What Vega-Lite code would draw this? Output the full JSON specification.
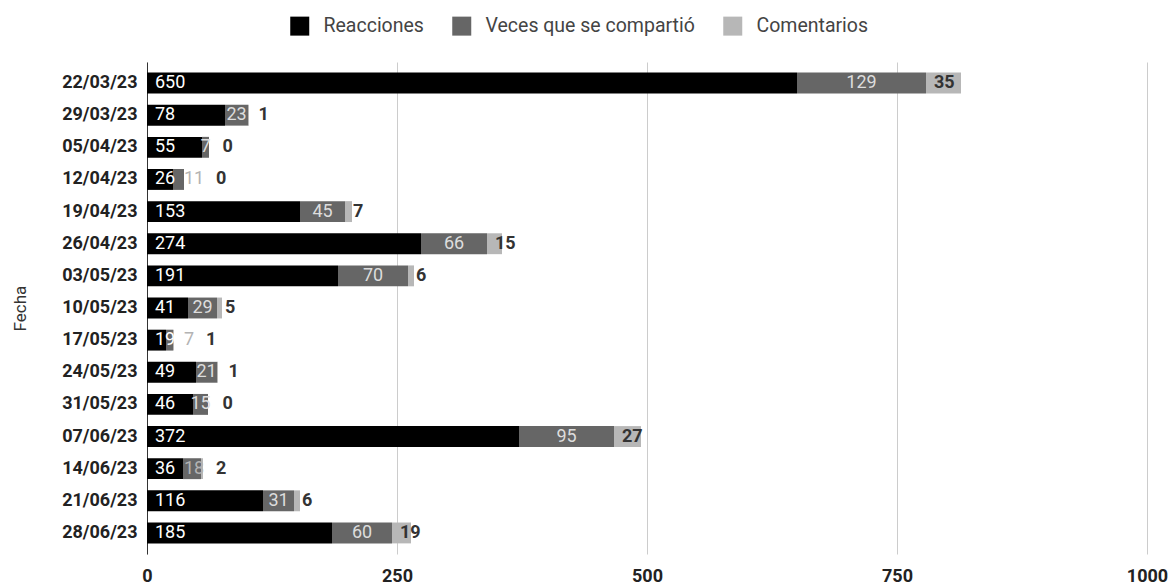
{
  "$schema": "https://vega.github.io/schema/vega-lite/v6.json",
  "autosize": "none",
  "width": 1000,
  "height": 492,
  "padding": {"left": 147, "top": 62, "right": 22, "bottom": 32},
  "background": "#ffffff",
  "config": {
    "view": {"stroke": null},
    "font": "Roboto"
  },
  "data": {
    "values": [
      {"fecha": "22/03/23", "reacciones": 650, "compartidos": 129, "comentarios": 35},
      {"fecha": "29/03/23", "reacciones": 78, "compartidos": 23, "comentarios": 1},
      {"fecha": "05/04/23", "reacciones": 55, "compartidos": 7, "comentarios": 0},
      {"fecha": "12/04/23", "reacciones": 26, "compartidos": 11, "comentarios": 0},
      {"fecha": "19/04/23", "reacciones": 153, "compartidos": 45, "comentarios": 7},
      {"fecha": "26/04/23", "reacciones": 274, "compartidos": 66, "comentarios": 15},
      {"fecha": "03/05/23", "reacciones": 191, "compartidos": 70, "comentarios": 6},
      {"fecha": "10/05/23", "reacciones": 41, "compartidos": 29, "comentarios": 5},
      {"fecha": "17/05/23", "reacciones": 19, "compartidos": 7, "comentarios": 1},
      {"fecha": "24/05/23", "reacciones": 49, "compartidos": 21, "comentarios": 1},
      {"fecha": "31/05/23", "reacciones": 46, "compartidos": 15, "comentarios": 0},
      {"fecha": "07/06/23", "reacciones": 372, "compartidos": 95, "comentarios": 27},
      {"fecha": "14/06/23", "reacciones": 36, "compartidos": 18, "comentarios": 2},
      {"fecha": "21/06/23", "reacciones": 116, "compartidos": 31, "comentarios": 6},
      {"fecha": "28/06/23", "reacciones": 185, "compartidos": 60, "comentarios": 19}
    ]
  },
  "encoding": {
    "y": {
      "field": "fecha",
      "type": "nominal",
      "sort": null,
      "scale": {"paddingInner": 0.35, "paddingOuter": 0.33},
      "axis": {
        "title": "Fecha",
        "titleFont": "Roboto",
        "titleFontSize": 17,
        "titleFontWeight": "normal",
        "titleColor": "#333333",
        "titlePadding": 32,
        "labelFont": "Roboto",
        "labelFontSize": 18,
        "labelFontWeight": "bold",
        "labelColor": "#222222",
        "labelPadding": 10,
        "ticks": false,
        "domain": true,
        "domainColor": "#333333",
        "domainWidth": 1,
        "grid": false
      }
    }
  },
  "layer": [
    {
      "transform": [
        {"fold": ["reacciones", "compartidos", "comentarios"], "as": ["serie", "valor"]},
        {"stack": "valor", "groupby": ["fecha"], "sort": [{"field": "serie", "order": "descending"}], "as": ["inicio", "fin"]}
      ],
      "mark": {"type": "bar"},
      "encoding": {
        "x": {
          "field": "inicio",
          "type": "quantitative",
          "scale": {"domain": [0, 1000], "nice": false},
          "axis": {
            "title": null,
            "values": [0, 250, 500, 750, 1000],
            "format": "d",
            "grid": true,
            "gridColor": "#cccccc",
            "gridWidth": 1,
            "domain": false,
            "ticks": false,
            "labelFont": "Roboto",
            "labelFontSize": 18,
            "labelFontWeight": "bold",
            "labelColor": "#222222",
            "labelPadding": 13,
            "labelFlush": false,
            "labelOverlap": false,
            "labelBound": false
          }
        },
        "x2": {"field": "fin"},
        "color": {
          "field": "serie",
          "type": "nominal",
          "scale": {
            "domain": ["reacciones", "compartidos", "comentarios"],
            "range": ["#000000", "#666666", "#b7b7b7"]
          },
          "legend": {
            "title": null,
            "orient": "none",
            "direction": "horizontal",
            "legendX": 143,
            "legendY": -46,
            "symbolType": "square",
            "symbolSize": 361,
            "symbolStrokeWidth": 0,
            "symbolOpacity": 1,
            "labelFont": "Roboto",
            "labelFontSize": 19.5,
            "labelColor": "#444444",
            "labelLimit": 400,
            "labelOffset": 14,
            "columnPadding": 28,
            "labelExpr": "datum.label == 'reacciones' ? 'Reacciones' : (datum.label == 'compartidos' ? 'Veces que se compartió' : 'Comentarios')"
          }
        }
      }
    },
    {
      "mark": {"type": "text", "align": "left", "baseline": "middle", "dx": 8, "font": "Roboto", "fontSize": 18, "color": "#ffffff"},
      "encoding": {
        "x": {"datum": 0, "type": "quantitative", "axis": {"title": null}},
        "text": {"field": "reacciones", "type": "quantitative"}
      }
    },
    {
      "mark": {
        "type": "text", "align": "center", "baseline": "middle", "font": "Roboto", "fontSize": 18,
        "dx": {"expr": "max((scale('x', datum.reacciones + datum.compartidos) - scale('x', datum.reacciones)) / 2, 8 + 10 * length(toString(datum.reacciones)) + 9 + 5 * length(toString(datum.compartidos)) - scale('x', datum.reacciones))"},
        "color": {"expr": "(scale('x', datum.reacciones + datum.compartidos) - scale('x', datum.reacciones)) / 2 >= 8 + 10 * length(toString(datum.reacciones)) + 9 + 5 * length(toString(datum.compartidos)) - scale('x', datum.reacciones) ? '#dddddd' : '#b3b3b3'"}
      },
      "encoding": {
        "x": {"field": "reacciones", "type": "quantitative", "axis": {"title": null}},
        "text": {"field": "compartidos", "type": "quantitative"}
      }
    },
    {
      "mark": {
        "type": "text", "align": "left", "baseline": "middle", "font": "Roboto", "fontSize": 18, "fontWeight": "bold", "color": "#333333",
        "dx": {"expr": "max(scale('x', datum.reacciones + datum.compartidos) - scale('x', datum.reacciones) + 8, max((scale('x', datum.reacciones + datum.compartidos) - scale('x', datum.reacciones)) / 2, 8 + 10 * length(toString(datum.reacciones)) + 9 + 5 * length(toString(datum.compartidos)) - scale('x', datum.reacciones)) + 5 * length(toString(datum.compartidos)) + 12)"}
      },
      "encoding": {
        "x": {"field": "reacciones", "type": "quantitative", "axis": {"title": null}},
        "text": {"field": "comentarios", "type": "quantitative"}
      }
    }
  ]
}
